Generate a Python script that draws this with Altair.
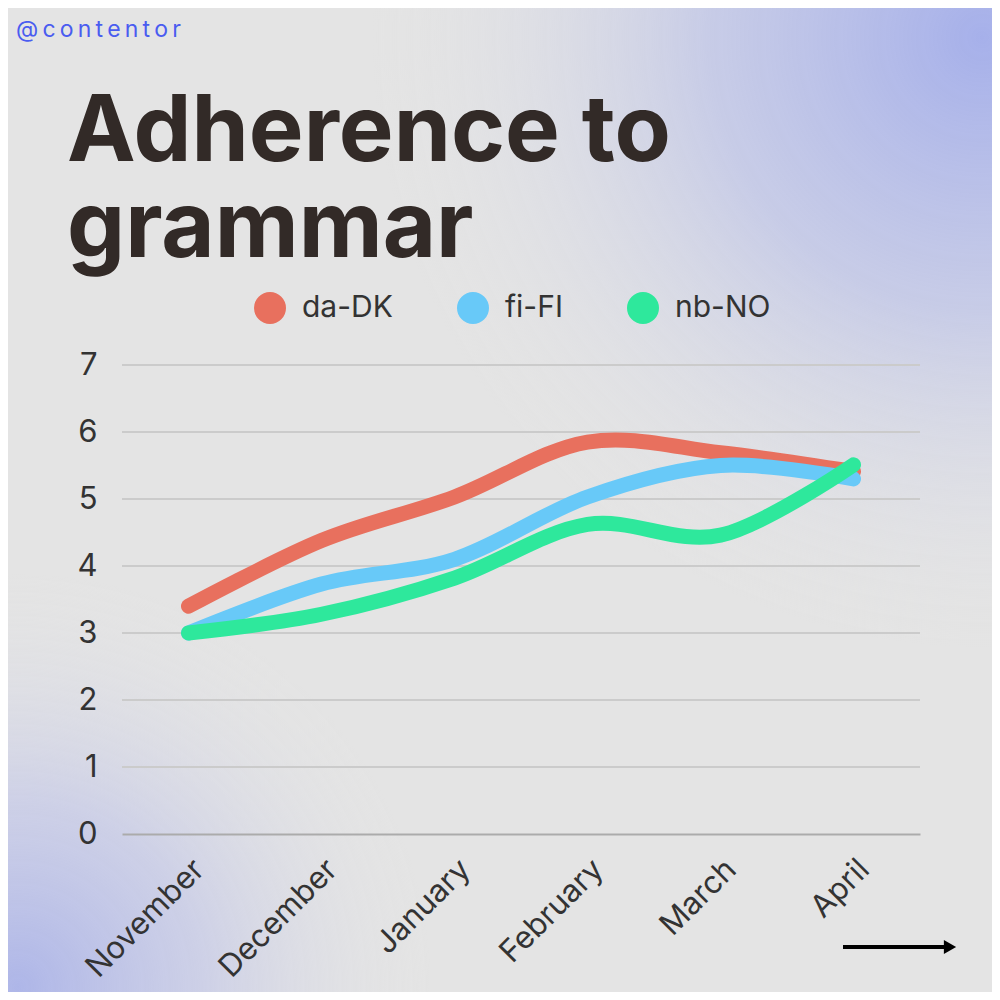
import altair as alt
import pandas as pd

# ---- data ----
months = ["November", "December", "January", "February", "March", "April"]
series_names = ["da-DK", "fi-FI", "nb-NO"]
da_dk = [3.4, 4.38, 5.03, 5.85, 5.69, 5.41]
fi_fi = [3.0, 3.73, 4.1, 5.03, 5.5, 5.3]
nb_no = [3.0, 3.28, 3.82, 4.62, 4.46, 5.51]
series_colors = ["#e8705e", "#68c9f8", "#2ee89c"]
y_ticks = [0, 1, 2, 3, 4, 5, 6, 7]
title_text = "Adherence to\ngrammar"
handle_text = "@contentor"

rows = []
for name, vals in zip(series_names, [da_dk, fi_fi, nb_no]):
    for m, v in zip(months, vals):
        rows.append({"month": m, "language": name, "value": v})
df = pd.DataFrame(rows)
grid_df = pd.DataFrame({"tick": y_ticks[1:]})
one = pd.DataFrame({"k": [0]})

W, H = 798, 469
PAD_L, PAD_T = 114, 357
TOTAL = 984

FONT = "Inter"

def radial(cx, cy, r, c0, c_mid, mid):
    return alt.RadialGradient(
        gradient="radial", x1=cx, y1=cy, r1=0, x2=cx, y2=cy, r2=r,
        stops=[
            alt.GradientStop(offset=0, color=c0),
            alt.GradientStop(offset=mid, color=c_mid),
            alt.GradientStop(offset=1, color="rgba(228,228,228,0)"),
        ],
    )

full_rect = dict(
    x=alt.value(-PAD_L), x2=alt.value(TOTAL - PAD_L),
    y=alt.value(-PAD_T), y2=alt.value(TOTAL - PAD_T),
)

bg_tr = alt.Chart(one).mark_rect(
    fill=radial(0.99, 0.03, 0.62, "rgba(166,176,234,1)", "rgba(190,196,232,0.75)", 0.45)
).encode(**full_rect)

bg_bl = alt.Chart(one).mark_rect(
    fill=radial(0.01, 0.995, 0.42, "rgba(174,182,232,1)", "rgba(196,200,232,0.7)", 0.45)
).encode(**full_rect)

x_enc = alt.X(
    "month:N", sort=months,
    scale=alt.Scale(type="point", padding=0.5),
    axis=alt.Axis(
        title=None, labelAngle=315, labelFontSize=31, labelFont=FONT,
        labelColor="#333333", ticks=False, grid=False, domain=True,
        domainColor="#ababab", domainWidth=2, labelPadding=20, zindex=1,
    ),
)
y_enc = alt.Y(
    "value:Q", scale=alt.Scale(domain=[0, 7], nice=False),
    axis=alt.Axis(
        title=None, values=y_ticks, format="d", labelFontSize=31, labelFont=FONT,
        labelColor="#333333", ticks=False, grid=False, domain=False,
        labelPadding=25, zindex=1,
    ),
)

grid = alt.Chart(grid_df).mark_rule(color="#cbcbcb", strokeWidth=2).encode(
    x=alt.value(0), x2=alt.value(W),
    y=alt.Y("tick:Q", scale=alt.Scale(domain=[0, 7], nice=False)),
)

lines = alt.Chart(df).mark_line(
    strokeWidth=15, strokeCap="round", strokeJoin="round", interpolate="cardinal"
).encode(
    x=x_enc,
    y=y_enc,
    color=alt.Color(
        "language:N",
        scale=alt.Scale(domain=series_names, range=series_colors),
        legend=alt.Legend(
            title=None, orient="none", legendX=132, legendY=-73,
            direction="horizontal", symbolType="circle", symbolSize=256,
            symbolStrokeWidth=16, symbolOpacity=1, labelFontSize=30,
            labelFont=FONT, labelColor="#333333", labelOffset=16,
            columnPadding=40, padding=0,
        ),
    ),
)

title = alt.Chart(one).mark_text(
    text=title_text, lineBreak="\n", font=FONT, fontSize=92, fontWeight="bold",
    color="#322a27", align="left", baseline="alphabetic", lineHeight=96,
).encode(x=alt.value(-55), y=alt.value(-204))

handle = alt.Chart(one).mark_text(
    text="\u2009".join(handle_text), font=FONT, fontSize=23, color="#4a5cf0",
    align="left", baseline="alphabetic",
).encode(x=alt.value(-106), y=alt.value(-328))

arrow_line = alt.Chart(one).mark_rule(color="#000000", strokeWidth=4).encode(
    x=alt.value(721), x2=alt.value(823), y=alt.value(582)
)
arrow_head = alt.Chart(one).mark_point(
    shape="triangle-right", filled=True, color="#000000", size=200, opacity=1
).encode(x=alt.value(828), y=alt.value(582))

chart = alt.layer(
    bg_tr, bg_bl, grid, lines, title, handle, arrow_line, arrow_head
).properties(
    width=W, height=H,
    padding={"left": PAD_L, "top": PAD_T, "right": TOTAL - PAD_L - W, "bottom": TOTAL - PAD_T - H},
    autosize=alt.AutoSizeParams(type="none"),
    background="#e4e4e4",
).configure_view(stroke=None)

chart.save("out.html", embed_options={"renderer": "svg", "actions": False})
